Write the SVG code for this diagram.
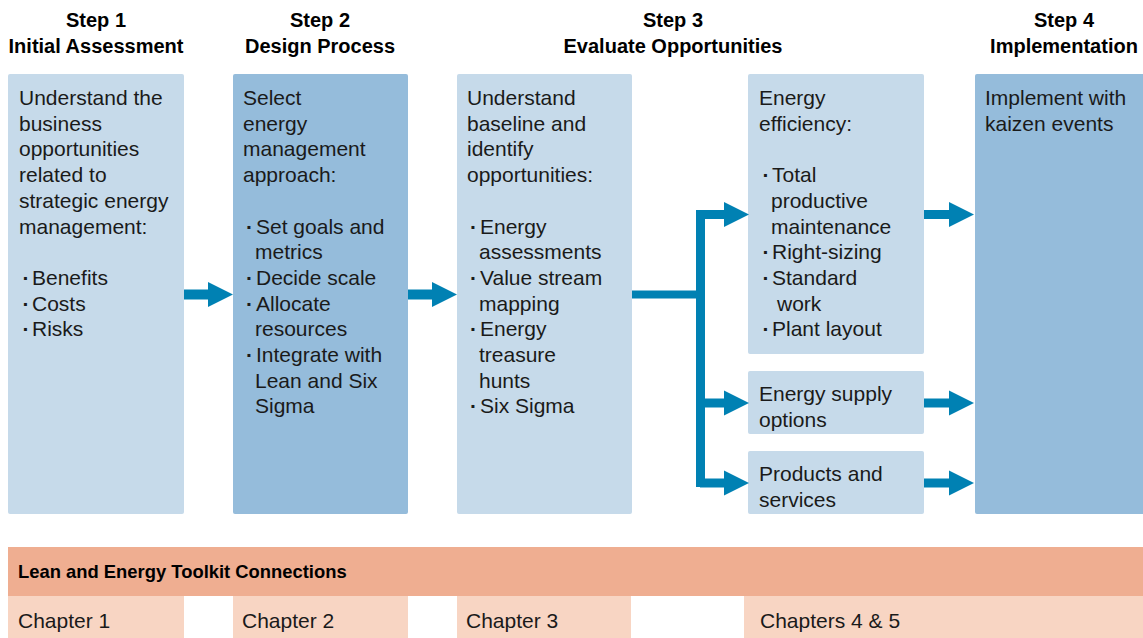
<svg xmlns="http://www.w3.org/2000/svg" width="1143" height="638" viewBox="0 0 1143 638">
<style>
  .lt{fill:#c6daea}
  .dk{fill:#95bcdb}
  .hd{fill:#efae91}
  .ch{fill:#f8d5c3}
  .t{font-family:"Liberation Sans",Arial,sans-serif;font-size:21px;fill:#1a1a1a}
  .b{font-weight:bold}
  .h{font-family:"Liberation Sans",Arial,sans-serif;font-size:20px;font-weight:bold;fill:#000;text-anchor:middle}
  .hb{font-family:"Liberation Sans",Arial,sans-serif;font-size:18.4px;font-weight:bold;fill:#000}
  .c{fill:none;stroke:#0081b3}
</style>
<defs>
  <marker id="ah" markerUnits="userSpaceOnUse" markerWidth="26" markerHeight="26" viewBox="0 -13 26 26" refX="0" refY="0" orient="auto">
    <path d="M0,-12.5 L25,0 L0,12.5 z" fill="#0081b3"/>
  </marker>
</defs>
<rect width="1143" height="638" fill="#fff"/>

<g id="headers">
  <text class="h" x="96" y="27">Step 1</text>
  <text class="h" x="96" y="53">Initial Assessment</text>
  <text class="h" x="320" y="27">Step 2</text>
  <text class="h" x="320" y="53">Design Process</text>
  <text class="h" x="673" y="27">Step 3</text>
  <text class="h" x="673" y="53">Evaluate Opportunities</text>
  <text class="h" x="1064" y="27">Step 4</text>
  <text class="h" x="1064" y="53">Implementation</text>
</g>

<g id="step1">
  <rect class="lt" x="8" y="74" width="176" height="440" rx="2"/>
  <text class="t">
    <tspan x="19" y="105">Understand the</tspan>
    <tspan x="19" y="130.7">business</tspan>
    <tspan x="19" y="156.4">opportunities</tspan>
    <tspan x="19" y="182.1">related to</tspan>
    <tspan x="19" y="207.8">strategic energy</tspan>
    <tspan x="19" y="233.5">management:</tspan>
    <tspan class="b" x="22.5" y="284.9">·</tspan><tspan x="32" y="284.9">Benefits</tspan>
    <tspan class="b" x="22.5" y="310.6">·</tspan><tspan x="32" y="310.6">Costs</tspan>
    <tspan class="b" x="22.5" y="336.3">·</tspan><tspan x="32" y="336.3">Risks</tspan>
  </text>
</g>

<g id="step2">
  <rect class="dk" x="233" y="74" width="175" height="440" rx="2"/>
  <text class="t">
    <tspan x="243" y="105">Select</tspan>
    <tspan x="243" y="130.7">energy</tspan>
    <tspan x="243" y="156.4">management</tspan>
    <tspan x="243" y="182.1">approach:</tspan>
    <tspan class="b" x="246" y="233.5">·</tspan><tspan x="256" y="233.5">Set goals and</tspan>
    <tspan x="255" y="259.2">metrics</tspan>
    <tspan class="b" x="246" y="284.9">·</tspan><tspan x="256" y="284.9">Decide scale</tspan>
    <tspan class="b" x="246" y="310.6">·</tspan><tspan x="256" y="310.6">Allocate</tspan>
    <tspan x="255" y="336.3">resources</tspan>
    <tspan class="b" x="246" y="362">·</tspan><tspan x="256" y="362">Integrate with</tspan>
    <tspan x="255" y="387.7">Lean and Six</tspan>
    <tspan x="255" y="413.4">Sigma</tspan>
  </text>
</g>

<g id="step3">
  <rect class="lt" x="457" y="74" width="175" height="440" rx="2"/>
  <text class="t">
    <tspan x="467" y="105">Understand</tspan>
    <tspan x="467" y="130.7">baseline and</tspan>
    <tspan x="467" y="156.4">identify</tspan>
    <tspan x="467" y="182.1">opportunities:</tspan>
    <tspan class="b" x="470" y="233.5">·</tspan><tspan x="480" y="233.5">Energy</tspan>
    <tspan x="479" y="259.2">assessments</tspan>
    <tspan class="b" x="470" y="284.9">·</tspan><tspan x="480" y="284.9">Value stream</tspan>
    <tspan x="479" y="310.6">mapping</tspan>
    <tspan class="b" x="470" y="336.3">·</tspan><tspan x="480" y="336.3">Energy</tspan>
    <tspan x="479" y="362">treasure</tspan>
    <tspan x="479" y="387.7">hunts</tspan>
    <tspan class="b" x="470" y="413.4">·</tspan><tspan x="480" y="413.4">Six Sigma</tspan>
  </text>
</g>

<g id="efficiency">
  <rect class="lt" x="748" y="74" width="176" height="280" rx="2"/>
  <text class="t">
    <tspan x="759" y="105">Energy</tspan>
    <tspan x="759" y="130.7">efficiency:</tspan>
    <tspan class="b" x="762.5" y="182.1">·</tspan><tspan x="772" y="182.1">Total</tspan>
    <tspan x="771" y="207.8">productive</tspan>
    <tspan x="771" y="233.5">maintenance</tspan>
    <tspan class="b" x="762.5" y="259.2">·</tspan><tspan x="772" y="259.2">Right-sizing</tspan>
    <tspan class="b" x="762.5" y="284.9">·</tspan><tspan x="772" y="284.9">Standard</tspan>
    <tspan x="777" y="310.6">work</tspan>
    <tspan class="b" x="762.5" y="336.3">·</tspan><tspan x="772" y="336.3">Plant layout</tspan>
  </text>
</g>

<g id="supply">
  <rect class="lt" x="748" y="371" width="176" height="63" rx="2"/>
  <text class="t">
    <tspan x="759" y="401">Energy supply</tspan>
    <tspan x="759" y="426.7">options</tspan>
  </text>
</g>

<g id="products">
  <rect class="lt" x="748" y="451" width="176" height="63" rx="2"/>
  <text class="t">
    <tspan x="759" y="481">Products and</tspan>
    <tspan x="759" y="506.7">services</tspan>
  </text>
</g>

<g id="step4">
  <rect class="dk" x="975" y="74" width="170" height="440" rx="2"/>
  <text class="t">
    <tspan x="985" y="105">Implement with</tspan>
    <tspan x="985" y="130.7">kaizen events</tspan>
  </text>
</g>

<g id="connectors">
  <path class="c" d="M184,294.5 H208" stroke-width="10" marker-end="url(#ah)"/>
  <path class="c" d="M408,294.5 H432" stroke-width="10" marker-end="url(#ah)"/>
  <path class="c" d="M632,294.5 H704" stroke-width="8"/>
  <path class="c" d="M700.5,210 V487" stroke-width="9"/>
  <path class="c" d="M700,214.5 H724" stroke-width="9" marker-end="url(#ah)"/>
  <path class="c" d="M700,403 H724" stroke-width="9" marker-end="url(#ah)"/>
  <path class="c" d="M700,483 H724" stroke-width="9" marker-end="url(#ah)"/>
  <path class="c" d="M924,214.5 H949" stroke-width="9" marker-end="url(#ah)"/>
  <path class="c" d="M924,403 H949" stroke-width="9" marker-end="url(#ah)"/>
  <path class="c" d="M924,483 H949" stroke-width="9" marker-end="url(#ah)"/>
</g>

<g id="toolkit">
  <rect class="hd" x="8" y="547" width="1135" height="49"/>
  <text class="hb" x="18" y="578">Lean and Energy Toolkit Connections</text>
</g>

<g id="chapter1">
  <rect class="ch" x="8" y="596" width="176" height="42"/>
  <text class="t" x="18" y="628">Chapter 1</text>
</g>
<g id="chapter2">
  <rect class="ch" x="233" y="596" width="175" height="42"/>
  <text class="t" x="242" y="628">Chapter 2</text>
</g>
<g id="chapter3">
  <rect class="ch" x="457" y="596" width="174" height="42"/>
  <text class="t" x="466" y="628">Chapter 3</text>
</g>
<g id="chapter45">
  <rect class="ch" x="744" y="596" width="399" height="42"/>
  <text class="t" x="760" y="628">Chapters 4 &amp; 5</text>
</g>
</svg>
